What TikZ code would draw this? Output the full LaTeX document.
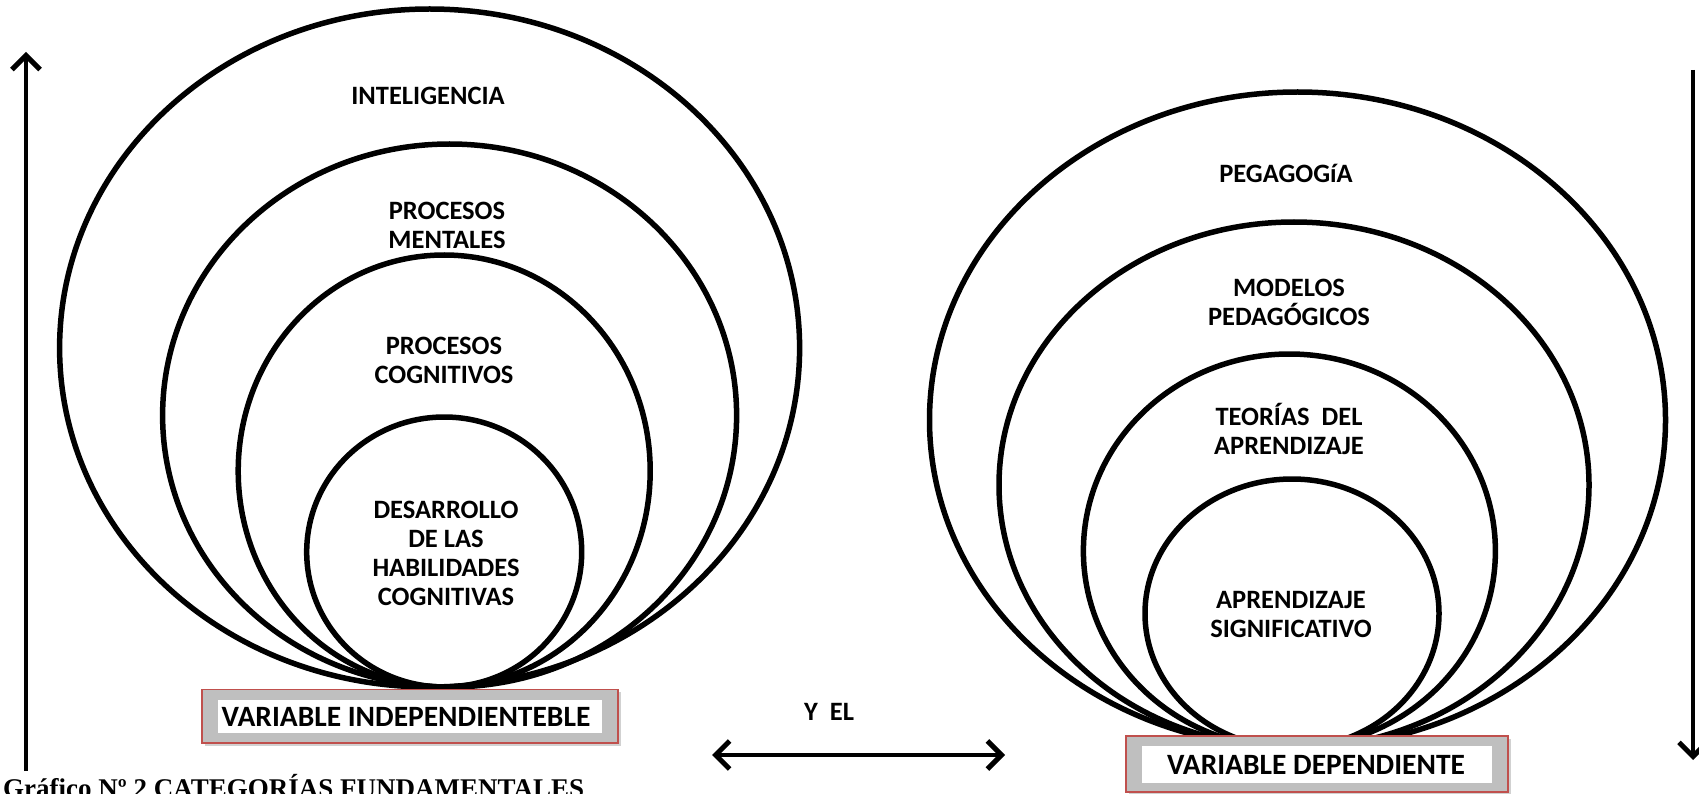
\documentclass[tikz,border=0pt]{standalone}
\usepackage{fontspec}
\setmainfont{Carlito}
\newfontfamily\capfont{Liberation Serif}
\usetikzlibrary{shapes.geometric,arrows.meta}
\definecolor{boxred}{HTML}{C0504D}
\definecolor{boxgray}{HTML}{BFBFBF}
\begin{document}
\begin{tikzpicture}[x=1pt,y=-1pt,
  ring/.style={draw=black, line width=5.5pt, ellipse, inner sep=0pt},
  lbl/.style={font=\fontsize{26.5}{29}\selectfont\bfseries, align=center, inner sep=0pt},
  outerbox/.style={draw=boxred, line width=1.6pt, fill=boxgray, inner sep=0pt},
  shadowbox/.style={fill=black, opacity=0.18, inner sep=0pt},
  innerbox/.style={fill=white, inner sep=0pt},
  boxtext/.style={inner sep=0pt, font=\fontsize{29.5}{32}\selectfont\bfseries},
  tip/.tip={Straight Barb[length=14pt,width=28pt,line width=5pt]},
  arr/.style={line width=4.5pt, -tip},
  darr/.style={line width=4.5pt, tip-tip},
]
\useasboundingbox (0,0) rectangle (1699,794);

% left rings
\node[ring, minimum width=740, minimum height=678] (l1) at (429.6,348) {};
\node[ring, minimum width=574, minimum height=543] (l2) at (449.6,415.5) {};
\node[ring, minimum width=412, minimum height=432] (l3) at (444.2,471) {};
\node[ring, minimum width=275, minimum height=270] (l4) at (444.2,552) {};

% right rings
\node[ring, minimum width=736, minimum height=656] (r1) at (1297.5,420) {};
\node[ring, minimum width=590, minimum height=526] (r2) at (1294,485) {};
\node[ring, minimum width=412, minimum height=394] (r3) at (1289.4,551) {};
\node[ring, minimum width=294, minimum height=269] (r4) at (1292,613.5) {};

% labels
\node[lbl] (t1) at (428,96) {INTELIGENCIA};
\node[lbl] (t2) at (447,225) {PROCESOS\\MENTALES};
\node[lbl] (t3) at (444,360) {PROCESOS\\COGNITIVOS};
\node[lbl] (t4) at (446,553.5) {DESARROLLO\\DE LAS\\HABILIDADES\\COGNITIVAS};
\node[lbl] (s1) at (1286,173) {PEGAGOGíA};
\node[lbl] (s2) at (1289,302) {MODELOS\\PEDAGÓGICOS};
\node[lbl] (s3) at (1289,428.5) {TEORÍAS\ \ DEL\\APRENDIZAJE};
\node[lbl] (s4) at (1291,614) {APRENDIZAJE\\SIGNIFICATIVO};

% boxes
\node[shadowbox, minimum width=416, minimum height=53.4] (vish) at (412.7,719) {};
\node[outerbox, minimum width=416, minimum height=53.4] (vi) at (409.7,716) {};
\node[innerbox, minimum width=383.7, minimum height=32.7] (viw) at (409.85,716.35) {};
\node[boxtext] (vit) at (406,717) {VARIABLE INDEPENDIENTEBLE};

\node[shadowbox, minimum width=382.3, minimum height=56.3] (vdsh) at (1319.85,766.85) {};
\node[outerbox, minimum width=382.3, minimum height=56.3] (vd) at (1316.85,763.85) {};
\node[innerbox, minimum width=350, minimum height=37.6] (vdw) at (1317,764.5) {};
\node[boxtext] (vdt) at (1316,765) {VARIABLE DEPENDIENTE};

% arrows
\coordinate (la0) at (26,771);
\coordinate (la1) at (26,52);
\draw[arr] (la0) -- (la1);
\coordinate (ra0) at (1693,70);
\coordinate (ra1) at (1693,760);
\draw[arr] (ra0) -- (ra1);
\coordinate (da0) at (712,755);
\coordinate (da1) at (1005,755);
\draw[darr] (da0) -- (da1);
\node[lbl] (yel) at (829,711.5) {Y\ \ EL};

% caption
\node[anchor=base west, inner sep=0pt, font=\capfont\fontsize{27}{30}\selectfont\bfseries] (cap) at (3,797.5) {Gráfico Nº 2 CATEGORÍAS FUNDAMENTALES};
\end{tikzpicture}
\end{document}
